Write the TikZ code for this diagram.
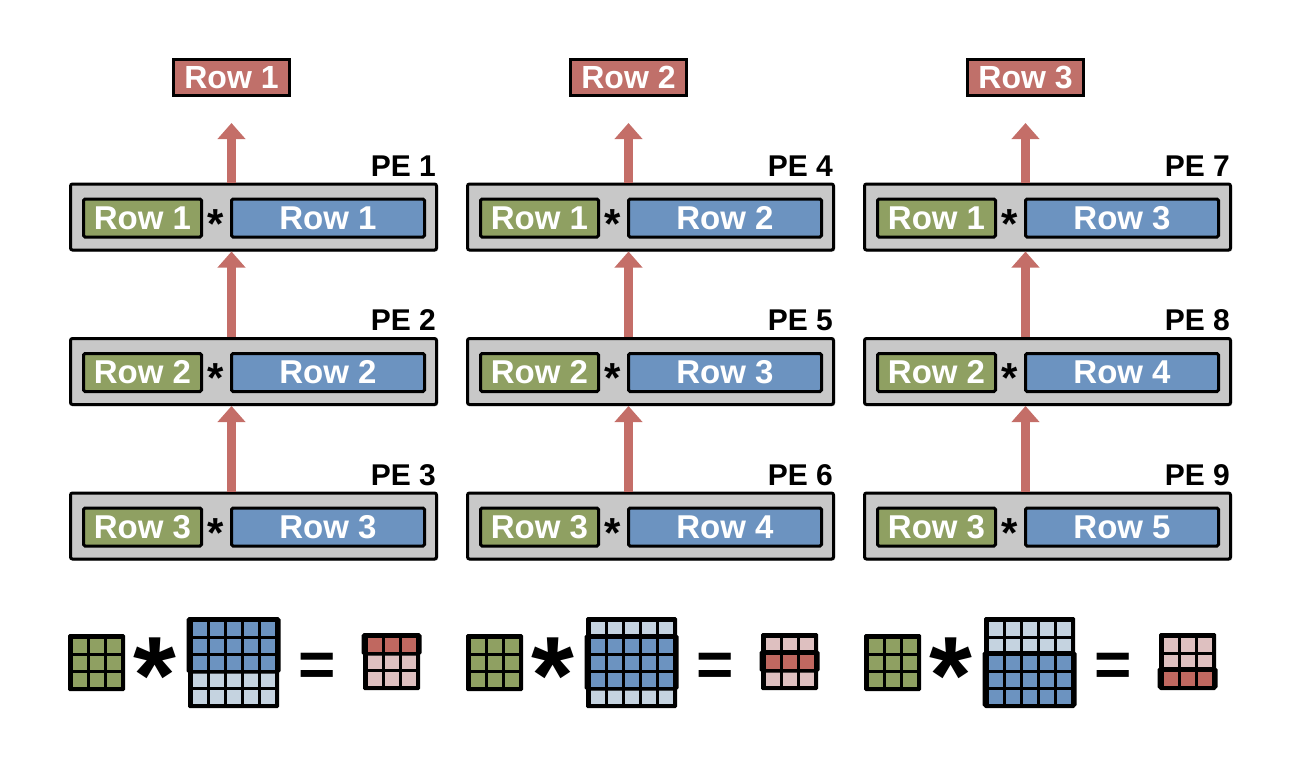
\documentclass[tikz,border=0pt]{standalone}
\usepackage{fontspec}
\setmainfont{Liberation Sans}
\usetikzlibrary{arrows.meta,shadows}
\definecolor{gfill}{RGB}{143,160,98}
\definecolor{bfill}{RGB}{108,147,192}
\definecolor{lbfill}{RGB}{197,211,224}
\definecolor{pegray}{RGB}{200,200,200}
\definecolor{labred}{RGB}{192,112,106}
\definecolor{arrred}{RGB}{196,110,104}
\definecolor{drfill}{RGB}{192,104,96}
\definecolor{lrfill}{RGB}{222,192,192}
\newcommand\fRow{\bfseries\fontsize{33}{33}\selectfont}
\newcommand\fLab{\bfseries\fontsize{32}{32}\selectfont}
\newcommand\fPE{\bfseries\fontsize{30}{30}\selectfont}
\newcommand\fStar{\bfseries\fontsize{42}{42}\selectfont}
\newcommand\fBigStar{\bfseries\fontsize{110}{110}\selectfont}
\newcommand\fEq{\bfseries\fontsize{64}{64}\selectfont}
% #1 x0, #2 y0, #3 rows, #4 cols, #5 dark, #6 light, #7 first dark row, #8 last dark row, #9 highlight (1/0)
\newcommand\drawmat[9]{%
  \pgfmathsetmacro\mw{6+17*#4}%
  \pgfmathsetmacro\mh{6+17*#3}%
  \fill[black,rounded corners=1.5pt] (#1,#2) rectangle ++(\mw,\mh);
  \foreach \i in {1,...,#3}{%
    \foreach \j in {1,...,#4}{%
      \ifnum\i<#7\relax\def\cc{#6}\else\ifnum\i>#8\relax\def\cc{#6}\else\def\cc{#5}\fi\fi
      \fill[\cc] (#1+4.5+17*\j-17,#2+4.5+17*\i-17) rectangle ++(14,14);
    }%
  }%
  \ifnum#9=1\relax
    \draw[line width=3pt,rounded corners=1.5pt] (#1,#2+17*#7-17+1.5) rectangle (#1+\mw,#2+17*#8+4);
  \fi
}
\begin{document}
\begin{tikzpicture}[x=1pt,y=-1pt,
  shd/.style={drop shadow={shadow xshift=1.5pt,shadow yshift=-1.5pt,opacity=0.25,fill=black}},
  pebox/.style={draw,line width=3pt,fill=pegray,rounded corners=2pt,minimum width=366pt,minimum height=66pt,inner sep=0pt,shd},
  gbox/.style={draw,line width=3pt,fill=gfill,rounded corners=1.5pt,minimum width=118pt,minimum height=38pt,inner sep=0pt,text=white,font=\fRow},
  bbox/.style={draw,line width=3pt,fill=bfill,rounded corners=1.5pt,minimum width=193pt,minimum height=38pt,inner sep=0pt,text=white,font=\fRow},
  lab/.style={draw,line width=3pt,fill=labred,minimum width=116pt,minimum height=36pt,inner sep=0pt,text=white,font=\fLab,shd},
  pelab/.style={anchor=base east,inner sep=0pt,font=\fPE},
  star/.style={anchor=base,inner sep=0pt,font=\fStar},
  arr/.style={draw=arrred,line width=9pt,-{Triangle[width=27pt,length=16pt]}},
]
\useasboundingbox (0,0) rectangle (1292,774);
\foreach \c in {0,1,2}{
  \pgfmathsetmacro\dx{397*\c}
  \pgfmathtruncatemacro\tr{\c+1}
  \node[lab] (top-\c) at (231.5+\dx,77.5) {Row \tr};
  \foreach \r in {0,1,2}{
    \pgfmathtruncatemacro\pe{3*\c+\r+1}
    \pgfmathtruncatemacro\br{\c+\r+1}
    \pgfmathtruncatemacro\gr{\r+1}
    \pgfmathsetmacro\yc{217+154.5*\r}
    \node[pebox] (pe-\c-\r) at (253.5+\dx,\yc) {};
    \node[gbox] (g-\c-\r) at (142.5+\dx,\yc+1) {Row \gr};
    \node[bbox] (b-\c-\r) at (328+\dx,\yc+1) {Row \br};
    \node[star] (s-\c-\r) at (216+\dx,\yc+21) {*};
    \node[pelab] (pl-\c-\r) at (436+\dx,\yc-41) {PE \pe};
  }
  \draw[arr,shorten >=26pt] (top-\c |- pe-\c-0.north) -- (top-\c.south);
  \draw[arr] (top-\c |- pe-\c-1.north) -- (top-\c |- pe-\c-0.south);
  \draw[arr] (top-\c |- pe-\c-2.north) -- (top-\c |- pe-\c-1.south);
}
% bottom equations
\foreach \c in {0,1,2}{
  \pgfmathsetmacro\dx{398*\c}
  \pgfmathtruncatemacro\fa{\c+1}
  \pgfmathtruncatemacro\fb{\c+3}
  \drawmat{68+\dx}{634}{3}{3}{gfill}{gfill}{1}{3}{0}
  \drawmat{188+\dx}{617}{5}{5}{bfill}{lbfill}{\fa}{\fb}{1}
  \drawmat{363+\dx}{633}{3}{3}{drfill}{lrfill}{\fa}{\fa}{1}
  \node[anchor=base,inner sep=0pt,font=\fBigStar] (bs-\c) at (154.5+\dx,713) {*};
  \node[anchor=base,inner sep=0pt,font=\fEq] (eq-\c) at (317+\dx,686) {=};
}
\end{tikzpicture}
\end{document}
